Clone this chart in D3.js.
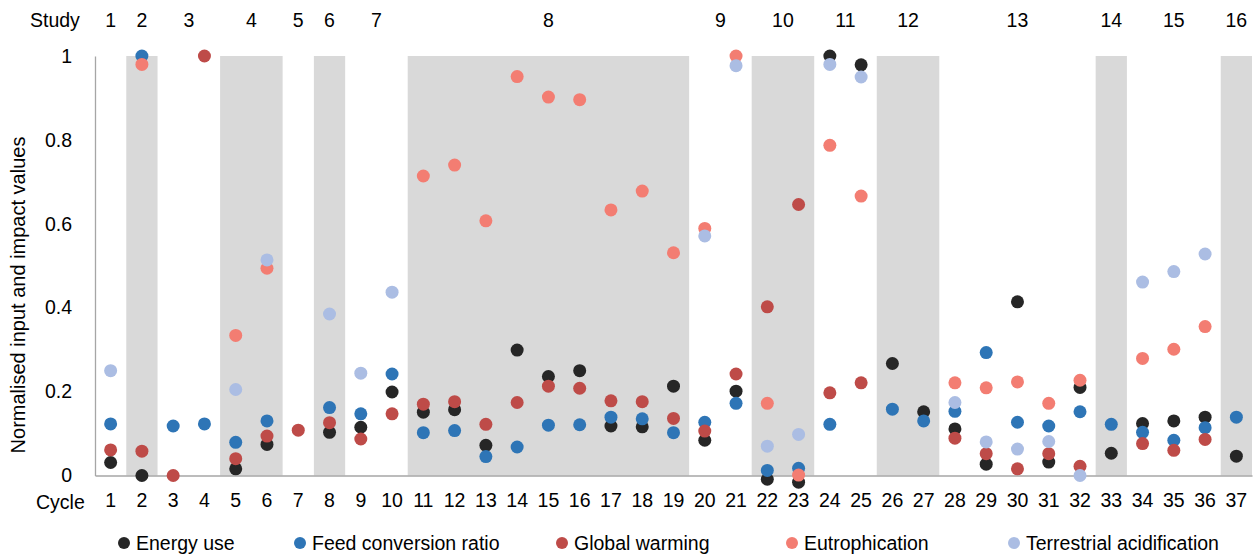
<!DOCTYPE html>
<html>
<head>
<meta charset="utf-8">
<script src="https://cdn.jsdelivr.net/npm/d3@7"></script>
<style>
  body { margin: 0; background: #fff; }
</style>
</head>
<body>
<div id="chart"></div>
<script>
// cycles and the study each block of cycles belongs to
var cycles = d3.range(1, 38);
var studies = [1, 2, 3, 4, 5, 6, 7, 8, 9, 10, 11, 12, 13, 14, 15, 16];
var studySizes = [1, 1, 2, 2, 1, 1, 2, 9, 2, 2, 2, 2, 5, 1, 3, 1];
var yTicks = [0, 0.2, 0.4, 0.6, 0.8, 1];

var energyUse = [0.031, 0.0, null, null, 0.016, 0.074, null, 0.103, 0.115, 0.199,
  0.151, 0.157, 0.072, 0.299, 0.236, 0.250, 0.118, 0.116, 0.213, 0.084,
  0.201, -0.009, -0.016, 1.0, 0.979, 0.267, 0.152, 0.111, 0.027, 0.414,
  0.032, 0.210, 0.053, 0.124, 0.130, 0.139, 0.046];
var feedConversion = [0.123, 1.0, 0.118, 0.123, 0.079, 0.130, null, 0.162, 0.147, 0.242,
  0.102, 0.107, 0.045, 0.068, 0.120, 0.121, 0.139, 0.135, 0.102, 0.127,
  0.172, 0.012, 0.017, 0.122, null, 0.158, 0.130, 0.153, 0.293, 0.127,
  0.118, 0.152, 0.122, 0.103, 0.084, 0.114, 0.139];
var globalWarming = [0.061, 0.058, 0.0, 1.0, 0.040, 0.094, 0.108, 0.126, 0.087, 0.147,
  0.170, 0.176, 0.122, 0.174, 0.213, 0.208, 0.178, 0.176, 0.136, 0.106,
  0.242, 0.402, 0.646, 0.197, 0.221, null, null, 0.089, 0.052, 0.016,
  0.052, 0.022, null, 0.076, 0.060, 0.086, null];
var eutrophication = [null, 0.98, null, null, 0.334, 0.494, null, null, null, null,
  0.714, 0.740, 0.607, 0.951, 0.902, 0.896, 0.633, 0.678, 0.531, 0.589,
  1.0, 0.172, 0.001, 0.787, 0.666, null, null, 0.221, 0.209, 0.223,
  0.172, 0.227, null, 0.279, 0.301, 0.355, null];
var terrestrialAcid = [0.25, null, null, null, 0.205, 0.514, null, 0.385, 0.244, 0.437,
  null, null, null, null, null, null, null, null, null, 0.571,
  0.977, 0.070, 0.098, 0.980, 0.950, null, null, 0.174, 0.080, 0.063,
  0.081, 0.0, null, 0.461, 0.486, 0.528, null];

var series = [
  {name: "Energy use", values: energyUse, color: "#262626"},
  {name: "Feed conversion ratio", values: feedConversion, color: "#2E75B6"},
  {name: "Global warming", values: globalWarming, color: "#BE4B48"},
  {name: "Eutrophication", values: eutrophication, color: "#F37D72"},
  {name: "Terrestrial acidification", values: terrestrialAcid, color: "#ABBDE3"}
];

var font = "Liberation Sans";
var width = 1260, height = 557;
var margin = {top: 56, right: 8, bottom: 81.5, left: 95};

var svg = d3.select("#chart")
    .append("svg")
    .attr("width", width)
    .attr("height", height)
    .attr("font-family", font);

var x = d3.scaleBand()
    .domain(cycles)
    .range([margin.left, width - margin.right])
    .padding(0);

var y = d3.scaleLinear()
    .domain([0, 1])
    .range([height - margin.bottom, margin.top]);

// study groups: alternate ones are shaded
var start = 0;
var groups = studySizes.map(function(n, i) {
    var g = {study: studies[i], first: cycles[start], last: cycles[start + n - 1]};
    start += n;
    return g;
});

svg.append("g")
    .selectAll("rect")
    .data(groups.filter(function(d, i) { return i % 2 == 1; }))
    .enter().append("rect")
    .attr("x", function(d) { return x(d.first); })
    .attr("y", y(1))
    .attr("width", function(d) { return x(d.last) + x.bandwidth() - x(d.first); })
    .attr("height", y(0) - y(1))
    .attr("fill", "#D9D9D9");

// study labels on top
svg.append("text")
    .attr("x", 30)
    .attr("y", 20)
    .attr("dy", "0.35em")
    .attr("font-size", 19.5)
    .text("Study");
svg.append("g")
    .selectAll("text")
    .data(groups)
    .enter().append("text")
    .attr("x", function(d) { return (x(d.first) + x(d.last) + x.bandwidth()) / 2; })
    .attr("y", 20)
    .attr("dy", "0.35em")
    .attr("text-anchor", "middle")
    .attr("font-size", 19.5)
    .text(function(d) { return d.study; });

// axes
var xAxis = svg.append("g")
    .attr("transform", "translate(0," + y(0) + ")")
    .call(d3.axisBottom(x).tickSize(0).tickPadding(18))
    .attr("font-family", font)
    .attr("font-size", 19.5);
xAxis.select(".domain").attr("stroke", "#A6A6A6").attr("stroke-width", 1.3);
xAxis.selectAll("text").attr("fill", "#000");

svg.append("text")
    .attr("x", 36)
    .attr("y", 502)
    .attr("dy", "0.35em")
    .attr("font-size", 19.5)
    .text("Cycle");

var yAxis = svg.append("g")
    .attr("transform", "translate(" + margin.left + ",0)")
    .call(d3.axisLeft(y).tickValues(yTicks).tickSize(0).tickPadding(23)
        .tickFormat(d3.format("~g")))
    .attr("font-family", font)
    .attr("font-size", 19.5);
yAxis.select(".domain").attr("stroke", "#A6A6A6").attr("stroke-width", 1.3);
yAxis.selectAll("text").attr("fill", "#000");

svg.append("text")
    .attr("transform", "translate(18,295) rotate(-90)")
    .attr("dy", "0.35em")
    .attr("text-anchor", "middle")
    .attr("font-size", 20)
    .text("Normalised input and impact values");

// points
series.forEach(function(s) {
    svg.append("g")
        .selectAll("circle")
        .data(cycles.map(function(c, i) { return {cycle: c, v: s.values[i]}; })
            .filter(function(d) { return d.v !== null; }))
        .enter().append("circle")
        .attr("cx", function(d) { return x(d.cycle) + x.bandwidth() / 2; })
        .attr("cy", function(d) { return y(d.v); })
        .attr("r", 6.5)
        .attr("fill", s.color);
});

// legend
var legendX = [124, 300, 562, 792, 1014];
var legend = svg.append("g")
    .selectAll("g")
    .data(series)
    .enter().append("g")
    .attr("transform", function(d, i) { return "translate(" + legendX[i] + ",543)"; });
legend.append("circle")
    .attr("r", 6)
    .attr("fill", function(d) { return d.color; });
legend.append("text")
    .attr("x", 12)
    .attr("dy", "0.35em")
    .attr("font-size", 19.5)
    .text(function(d) { return d.name; });
</script>
</body>
</html>
